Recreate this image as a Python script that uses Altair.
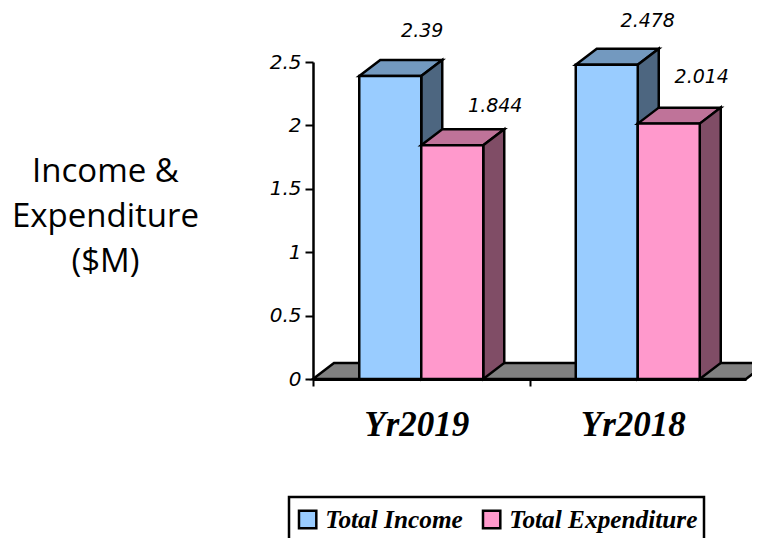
import altair as alt
import pandas as pd

categories = ["Yr2019", "Yr2018"]
series_names = ["Total Income", "Total Expenditure"]
total_income = [2.39, 2.478]
total_expenditure = [1.844, 2.014]
y_ticks = [0, 0.5, 1, 1.5, 2, 2.5]

front_colors = ["#99CCFF", "#FF99CC"]
top_colors = ["#7399BF", "#BF7399"]
side_colors = ["#4D6680", "#804D66"]
floor_color = "#808080"
INK = "#000000"

PX_X = 216.5
PX_Y = 126.8
DEPTH_X = 21 / PX_X
DEPTH_Y = 16 / PX_Y
BAR_W = 62 / PX_X
GAP = (1 - 2 * BAR_W) / 2
EDGE = 2.5

X = alt.X(
    "x:Q",
    scale=alt.Scale(domain=[0, 2], nice=False),
    title=None,
    axis=alt.Axis(
        values=[0, 0.5, 1, 1.5],
        labelExpr=f"datum.value == 0.5 ? '{categories[0]}' : datum.value == 1.5 ? '{categories[1]}' : ''",
        tickOpacity={"condition": {"test": "datum.value % 1 == 0", "value": 1}, "value": 0},
        tickSize=7,
        tickWidth=2,
        tickColor=INK,
        domainColor=INK,
        domainWidth=3,
        grid=False,
        zindex=1,
        labelFont="Liberation Serif",
        labelFontStyle="italic",
        labelFontWeight="bold",
        labelFontSize=35,
        labelColor=INK,
        labelPadding=21,
        labelOffset=-5,
        labelOverlap=False,
        labelFlush=False,
    ),
)
Y = alt.Y(
    "y:Q",
    scale=alt.Scale(domain=[0, 2.5], nice=False),
    stack=None,
    title=["Income &", "Expenditure", "($M)"],
    axis=alt.Axis(
        values=y_ticks,
        labelExpr="format(datum.value, '')",
        tickSize=8,
        tickWidth=2,
        tickColor=INK,
        domainColor=INK,
        domainWidth=2.5,
        grid=False,
        zindex=1,
        labelFont="DejaVu Sans",
        labelFontStyle="italic",
        labelFontSize=20,
        labelColor=INK,
        labelPadding=4,
        labelFlush=False,
        titleFont="Open Sans",
        titleFontWeight=400,
        titleFontSize=33,
        titleColor=INK,
        titleAngle=0,
        titleAlign="center",
        titleBaseline="middle",
        titleLineHeight=45,
        titleX=-208,
        titleY=109,
    ),
)


def top_face(a, w, v, fill, key):
    return [
        {"x": a, "y": v, "y2": v, "fill": fill, "k": key},
        {"x": a + DEPTH_X, "y": v + DEPTH_Y, "y2": v, "fill": fill, "k": key},
        {"x": a + w, "y": v + DEPTH_Y, "y2": v, "fill": fill, "k": key},
        {"x": a + w + DEPTH_X, "y": v + DEPTH_Y, "y2": v + DEPTH_Y, "fill": fill, "k": key},
    ]


def side_face(a, v, fill, key):
    return [
        {"x": a, "y": v, "y2": 0, "fill": fill, "k": key},
        {"x": a + DEPTH_X, "y": v + DEPTH_Y, "y2": DEPTH_Y, "fill": fill, "k": key},
    ]


def faces_layer(rows):
    return (
        alt.Chart(pd.DataFrame(rows))
        .mark_area(orient="vertical", stroke=INK, strokeWidth=EDGE, strokeJoin="miter", opacity=1)
        .encode(
            x=X,
            y=Y,
            y2="y2:Q",
            fill=alt.Fill("fill:N", scale=None),
            detail="k:N",
        )
    )


floor = faces_layer(top_face(0, 2, 0, floor_color, "floor"))

layers = [floor]
label_nudges = [(32, -45), (43, -39), (41, -44), (33, -47)]
labels = []
color_field = alt.Color(
    "series:N",
    scale=alt.Scale(domain=series_names, range=front_colors),
    legend=alt.Legend(
        title=None,
        orient="none",
        legendX=-24,
        legendY=435,
        direction="horizontal",
        columns=2,
        symbolType="square",
        symbolSize=300,
        symbolStrokeColor=INK,
        symbolStrokeWidth=2.5,
        symbolOpacity=1,
        labelFont="Liberation Serif",
        labelFontStyle="italic",
        labelFontWeight="bold",
        labelFontSize=25.3,
        labelColor=INK,
        labelOffset=5,
        labelLimit=300,
        columnPadding=16,
        padding=6,
        clipHeight=33,
        strokeColor=INK,
        fillColor="#FFFFFF",
    ),
)

values_by_series = [total_income, total_expenditure]
for s, (name, values) in enumerate(zip(series_names, values_by_series)):
    faces = []
    fronts = []
    for g, v in enumerate(values):
        left = g + GAP + s * BAR_W
        faces += top_face(left, BAR_W, v, top_colors[s], f"t{g}")
        faces += side_face(left + BAR_W, v, side_colors[s], f"s{g}")
        fronts.append({"x": left, "x2": left + BAR_W, "y": v, "y2": 0, "series": name})
        labels.append({"x": left + BAR_W / 2, "y": v, "text": str(v)})
    layers.append(faces_layer(faces))
    layers.append(
        alt.Chart(pd.DataFrame(fronts))
        .mark_rect(stroke=INK, strokeWidth=EDGE, opacity=1)
        .encode(x=X, x2="x2:Q", y=Y, y2="y2:Q", color=color_field)
    )

# order labels: group by category, then series
labels = [labels[0], labels[2], labels[1], labels[3]]
for row, (dx, dy) in zip(labels, label_nudges):
    layers.append(
        alt.Chart(pd.DataFrame([row]))
        .mark_text(
            dx=dx,
            dy=dy,
            font="DejaVu Sans",
            fontStyle="italic",
            fontSize=19,
            color=INK,
            align="center",
            baseline="middle",
        )
        .encode(x=X, y=Y, text="text:N")
    )

chart = (
    alt.layer(*layers)
    .properties(
        width=433,
        height=317,
        padding={"left": 305, "top": 54, "right": 6, "bottom": 159},
        autosize=alt.AutoSizeParams(type="none"),
        background="#FFFFFF",
    )
    .configure_view(stroke=None)
    .configure_legend(strokeWidth=2.5)
)

chart.save("out.html", embed_options={"renderer": "svg", "actions": False})
